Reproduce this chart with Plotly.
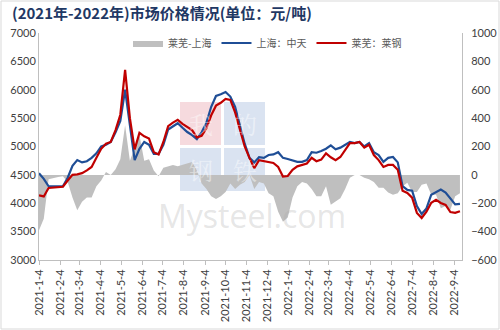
import pandas as pd
import plotly.graph_objects as go

# ---- data (weekly readings from the chart) ----
dates = pd.date_range("2021-01-04", periods=89, freq="7D")

shanghai_zhongtian = [
    4530, 4430, 4300, 4300, 4300, 4300, 4450, 4660, 4760, 4720,
    4740, 4800, 4880, 5000, 5030, 5080, 5250, 5450, 6000, 5400,
    4760, 4960, 5080, 5030, 4870, 4870, 5030, 5300, 5350, 5410,
    5330, 5255, 5200, 5130, 5250, 5420, 5700, 5890, 5920, 5960,
    5880, 5700, 5370, 5050, 4800, 4720, 4810, 4800, 4850, 4860,
    4900, 4800, 4780, 4750, 4730, 4730, 4760, 4900, 4890, 4920,
    4960, 5020, 4950, 4980, 5030, 5080, 5060, 5080, 5000, 5060,
    4900, 4850, 4730, 4800, 4815, 4720, 4300, 4235, 4220, 3950,
    3810, 3910, 4150, 4200, 4240, 4190, 4090, 3980, 3990,
]

laiwu_laigang = [
    4140, 4120, 4270, 4280, 4285, 4290, 4400, 4500, 4510, 4530,
    4580, 4640, 4800, 4960, 5050, 5080, 5290, 5560, 6350, 5500,
    4950, 5240, 5180, 5140, 4900, 4860, 5080, 5360, 5420, 5470,
    5400, 5340, 5290, 5160, 5190, 5320, 5550, 5720, 5770, 5840,
    5820, 5600, 5300, 5000, 4800, 4620, 4760, 4740, 4720, 4710,
    4640, 4470, 4480, 4590, 4650, 4680, 4700, 4800, 4740, 4770,
    4880, 4810, 4760, 4815, 4930, 5060, 5060, 5080, 4980, 5030,
    4850, 4760, 4640, 4675, 4675, 4590, 4220, 4180, 4100, 3830,
    3740, 3850, 4010, 4060, 4005, 3970, 3845, 3830, 3860,
]

spread = [r - s for r, s in zip(laiwu_laigang, shanghai_zhongtian)]

tick_labels = [
    "2021-1-4", "2021-2-4", "2021-3-4", "2021-4-4", "2021-5-4", "2021-6-4",
    "2021-7-4", "2021-8-4", "2021-9-4", "2021-10-4", "2021-11-4", "2021-12-4",
    "2022-1-4", "2022-2-4", "2022-3-4", "2022-4-4", "2022-5-4", "2022-6-4",
    "2022-7-4", "2022-8-4", "2022-9-4",
]
tick_vals = [pd.Timestamp(t) for t in tick_labels]

series_names = ["莱芜-上海", "上海：中天", "莱芜：莱钢"]
title_text = "(2021年-2022年)市场价格情况(单位：元/吨)"

# ---- figure ----
num_font = "Lato, 'Noto Sans', sans-serif"
cjk_font = "'Noto Sans CJK SC', sans-serif"

L, R, T, B = 39, 38, 33, 70
pw, ph = 500 - L - R, 330 - T - B


def px(xp):
    return (xp - L) / pw


def py(yp):
    return 1 - (yp - T) / ph


fig = go.Figure()
fig.add_trace(go.Scatter(
    x=dates, y=spread, name=series_names[0], mode="lines",
    line=dict(width=0, color="#BFBFBF"), fill="tozeroy",
    fillcolor="#BFBFBF", yaxis="y",
))
fig.add_trace(go.Scatter(
    x=dates, y=shanghai_zhongtian, name=series_names[1], mode="lines",
    line=dict(width=2.2, color="#1F4E96"), yaxis="y2",
))
fig.add_trace(go.Scatter(
    x=dates, y=laiwu_laigang, name=series_names[2], mode="lines",
    line=dict(width=2.2, color="#C00000"), yaxis="y2",
))

fig.update_layout(
    width=500, height=330,
    margin=dict(l=L, r=R, t=T, b=B, autoexpand=False),
    paper_bgcolor="white", plot_bgcolor="white",
    showlegend=True,
    legend=dict(
        orientation="h", x=px(128), y=py(43), xanchor="left", yanchor="middle",
        font=dict(family=cjk_font, size=10, color="#595959"),
        bgcolor="rgba(0,0,0,0)", itemwidth=30, tracegroupgap=0,
    ),
    xaxis=dict(
        type="date", range=["2021-01-04", "2022-09-15"],
        tickvals=tick_vals, ticktext=tick_labels, tickangle=-90,
        showgrid=False, zeroline=False,
        showline=True, linecolor="#BFBFBF", linewidth=1,
        ticks="outside", ticklen=4, tickcolor="#BFBFBF",
        tickfont=dict(family=num_font, size=11, color="#404040"),
    ),
    yaxis=dict(
        range=[-600, 1000], dtick=200, side="right",
        showgrid=False, zeroline=False,
        showline=True, linecolor="#BFBFBF", linewidth=1,
        tickfont=dict(family=num_font, size=11, color="#404040"),
        ticks="", ticklabelstandoff=6,
    ),
    yaxis2=dict(
        range=[3000, 7000], dtick=500, side="left", overlaying="y",
        showgrid=False, zeroline=False,
        showline=True, linecolor="#BFBFBF", linewidth=1,
        tickfont=dict(family=num_font, size=11, color="#404040"),
        ticks="",
    ),
)

# title
fig.add_annotation(
    text="<b>" + title_text + "</b>", xref="paper", yref="paper",
    x=px(10), y=py(13), xanchor="left", yanchor="middle",
    showarrow=False, font=dict(family=cjk_font, size=15, color="#1F3864"),
)

# watermark (Mysteel logo)
boxes = [
    (180, 102, 221, 145, "rgba(230,150,160,0.35)", "我"),
    (224, 102, 265, 145, "rgba(150,175,215,0.35)", "的"),
    (180, 148, 221, 191, "rgba(150,175,215,0.35)", "钢"),
    (224, 148, 265, 191, "rgba(150,175,215,0.35)", "铁"),
]
for x0, y0, x1, y1, col, ch in boxes:
    fig.add_shape(type="rect", xref="paper", yref="paper",
                  x0=px(x0), x1=px(x1), y0=py(y1), y1=py(y0),
                  fillcolor=col, line=dict(width=0), layer="below")
    fig.add_annotation(text=ch, xref="paper", yref="paper",
                       x=px((x0 + x1) / 2), y=py((y0 + y1) / 2),
                       showarrow=False,
                       font=dict(family="'Noto Serif CJK SC', " + cjk_font,
                                 size=24, color="rgba(255,255,255,0.45)"))
fig.add_annotation(text="Mysteel.com", xref="paper", yref="paper",
                   x=px(252), y=py(215), yanchor="middle", showarrow=False,
                   font=dict(family="'Open Sans', sans-serif", size=32,
                             color="rgba(170,170,170,0.30)"))

# outer border
fig.add_shape(type="rect", xref="paper", yref="paper",
              x0=-(L - 1) / pw, x1=1 + (R - 1) / pw,
              y0=-(B - 1) / ph, y1=1 + (T - 1) / ph,
              line=dict(color="#D9D9D9", width=1), fillcolor="rgba(0,0,0,0)")

fig.write_html("out.html")
